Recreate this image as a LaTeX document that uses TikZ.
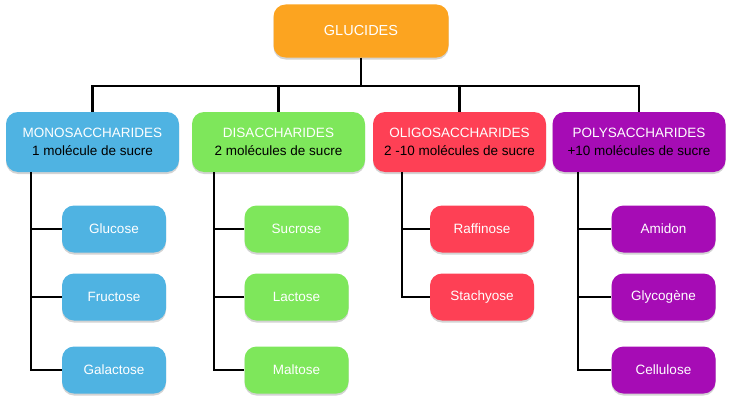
\documentclass[tikz,border=0pt]{standalone}
\usepackage{fontspec}
\setmainfont{Liberation Sans}
\usetikzlibrary{shadows}

\definecolor{gluOrange}{HTML}{FCA420}
\definecolor{monoBlue}{HTML}{4FB3E2}
\definecolor{diGreen}{HTML}{7EE75B}
\definecolor{oligoRed}{HTML}{FE4055}
\definecolor{polyPurple}{HTML}{A60CB5}

\tikzset {
  box/.style={rounded corners=12pt, inner sep=0pt, align=center,
    font=\fontsize{13.5}{17.5}\selectfont, text=white,
    drop shadow={opacity=.35, shadow xshift=0pt, shadow yshift=-2pt}},
  rootbox/.style={box, fill=gluOrange, minimum width=175pt, minimum height=53pt,
    font=\fontsize{14.5}{17}\selectfont},
  groupbox/.style={box, minimum width=173pt, minimum height=60pt},
  sugarbox/.style={box, minimum width=104pt, minimum height=47pt},
  link/.style={line width=2.8pt}
}

\begin{document}
\begin{tikzpicture}[x=1pt,y=1pt]
\useasboundingbox (0,0) rectangle (730,400);

% Root
\node [rootbox] (glu) at (361,369) {GLUCIDES};

% The four groups
\node [groupbox,fill=monoBlue] (mono) at (92.5,258)
   {MONOSACCHARIDES\\ \color{black}1 molécule de sucre};
\node [groupbox,fill=diGreen] (di) at (278.5,258)
   {DISACCHARIDES\\ \color{black}2 molécules de sucre};
\node [groupbox,fill=oligoRed] (oligo) at (459.5,258)
   {OLIGOSACCHARIDES\\ \color{black}2 -10 molécules de sucre};
\node [groupbox,fill=polyPurple] (poly) at (639,258)
   {POLYSACCHARIDES\\ \color{black}+10 molécules de sucre};

% Bar joining the root to the groups
\coordinate (bar) at (361,314);
\draw [link] (glu) -- (bar);
\draw [link] (mono.north) |- (bar) -| (poly.north);
\draw [link] (di.north) -- (di.north |- bar);
\draw [link] (oligo.north) -- (oligo.north |- bar);

% Monosaccharides
\node [sugarbox,fill=monoBlue] (gluc)  at (114,171) {Glucose};
\node [sugarbox,fill=monoBlue] (fruc)  at (114,103) {Fructose};
\node [sugarbox,fill=monoBlue] (galac) at (114,30)  {Galactose};
\coordinate (monoT) at (31,228);
\draw [link] (monoT) |- (galac);
\draw [link] (monoT |- gluc) -- (gluc);
\draw [link] (monoT |- fruc) -- (fruc);

% Disaccharides
\node [sugarbox,fill=diGreen] (sucr) at (296.5,171) {Sucrose};
\node [sugarbox,fill=diGreen] (lact) at (296.5,103) {Lactose};
\node [sugarbox,fill=diGreen] (malt) at (296.5,30)  {Maltose};
\coordinate (diT) at (214,228);
\draw [link] (diT) |- (malt);
\draw [link] (diT |- sucr) -- (sucr);
\draw [link] (diT |- lact) -- (lact);

% Oligosaccharides
\node [sugarbox,fill=oligoRed] (raff) at (482,171) {Raffinose};
\node [sugarbox,fill=oligoRed] (stac) at (482,103) {Stachyose};
\coordinate (oligoT) at (402,228);
\draw [link] (oligoT) |- (stac);
\draw [link] (oligoT |- raff) -- (raff);

% Polysaccharides
\node [sugarbox,fill=polyPurple] (amid) at (663.5,171) {Amidon};
\node [sugarbox,fill=polyPurple] (glyc) at (663.5,103) {Glycogène};
\node [sugarbox,fill=polyPurple] (cell) at (663.5,30)  {Cellulose};
\coordinate (polyT) at (578,228);
\draw [link] (polyT) |- (cell);
\draw [link] (polyT |- amid) -- (amid);
\draw [link] (polyT |- glyc) -- (glyc);
\end{tikzpicture}
\end{document}
